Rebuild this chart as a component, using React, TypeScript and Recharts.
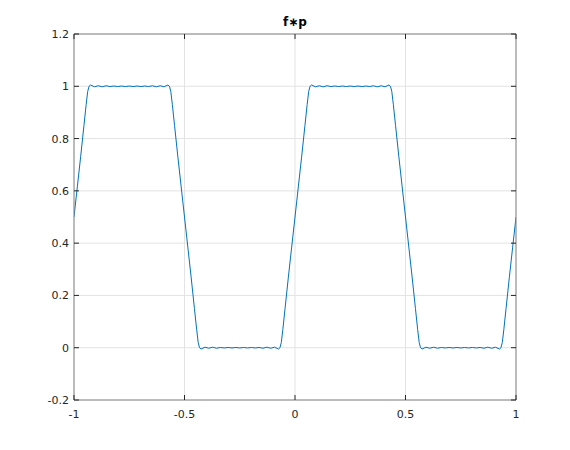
import React from 'react';
import { LineChart, Line, XAxis, YAxis, CartesianGrid } from 'recharts';

const xs = [
  -1, -0.985, -0.97, -0.955, -0.945, -0.938, -0.932, -0.925,
  -0.9075, -0.89, -0.8725, -0.855, -0.8375, -0.82, -0.8025, -0.785, -0.7675, -0.75, -0.7325, -0.715, -0.6975, -0.68, -0.6625, -0.645, -0.6275, -0.61, -0.5925,
  -0.575, -0.568, -0.562, -0.555, -0.545, -0.53, -0.515, -0.5, -0.485, -0.47, -0.455, -0.445, -0.438, -0.432, -0.425,
  -0.4075, -0.39, -0.3725, -0.355, -0.3375, -0.32, -0.3025, -0.285, -0.2675, -0.25, -0.2325, -0.215, -0.1975, -0.18, -0.1625, -0.145, -0.1275, -0.11, -0.0925,
  -0.075, -0.068, -0.062, -0.055, -0.045, -0.03, -0.015, 0, 0.015, 0.03, 0.045, 0.055, 0.062, 0.068, 0.075,
  0.0925, 0.11, 0.1275, 0.145, 0.1625, 0.18, 0.1975, 0.215, 0.2325, 0.25, 0.2675, 0.285, 0.3025, 0.32, 0.3375, 0.355, 0.3725, 0.39, 0.4075,
  0.425, 0.432, 0.438, 0.445, 0.455, 0.47, 0.485, 0.5, 0.515, 0.53, 0.545, 0.555, 0.562, 0.568, 0.575,
  0.5925, 0.61, 0.6275, 0.645, 0.6625, 0.68, 0.6975, 0.715, 0.7325, 0.75, 0.7675, 0.785, 0.8025, 0.82, 0.8375, 0.855, 0.8725, 0.89, 0.9075,
  0.925, 0.932, 0.938, 0.945, 0.955, 0.97, 0.985, 1,
];

const ys = [
  0.5, 0.615, 0.73, 0.85, 0.93, 0.98, 1.0, 1.005,
  0.998, 1.002, 0.998, 1.002, 0.999, 1.001, 0.999, 1.001, 0.999, 1.001, 0.999, 1.001, 0.999, 1.001, 0.999, 1.002, 0.998, 1.002, 0.998,
  1.005, 1.0, 0.98, 0.93, 0.85, 0.73, 0.615, 0.5, 0.385, 0.27, 0.15, 0.07, 0.02, 0.0, -0.005,
  0.002, -0.002, 0.002, -0.002, 0.001, -0.001, 0.001, -0.001, 0.001, -0.001, 0.001, -0.001, 0.001, -0.001, 0.001, -0.002, 0.002, -0.002, 0.002,
  -0.005, 0.0, 0.02, 0.07, 0.15, 0.27, 0.385, 0.5, 0.615, 0.73, 0.85, 0.93, 0.98, 1.0, 1.005,
  0.998, 1.002, 0.998, 1.002, 0.999, 1.001, 0.999, 1.001, 0.999, 1.001, 0.999, 1.001, 0.999, 1.001, 0.999, 1.002, 0.998, 1.002, 0.998,
  1.005, 1.0, 0.98, 0.93, 0.85, 0.73, 0.615, 0.5, 0.385, 0.27, 0.15, 0.07, 0.02, 0.0, -0.005,
  0.002, -0.002, 0.002, -0.002, 0.001, -0.001, 0.001, -0.001, 0.001, -0.001, 0.001, -0.001, 0.001, -0.001, 0.001, -0.002, 0.002, -0.002, 0.002,
  -0.005, 0.0, 0.02, 0.07, 0.15, 0.27, 0.385, 0.5,
];

const xTicks = [-1, -0.5, 0, 0.5, 1];
const yTicks = [-0.2, 0, 0.2, 0.4, 0.6, 0.8, 1, 1.2];
const title = 'f∗p';

const data = xs.map((x, i) => ({ x, y: ys[i] }));

const W = 554;
const H = 434;
const PL = 66;
const PT = 26;
const PR = 508;
const PB = 392;
const AXIS = '#868686';
const TXT = '#262626';
const FONT = 'DejaVu Sans';

const BottomTick = (props: any) => {
  const { x, payload } = props;
  return (
    <g>
      <line x1={x} x2={x} y1={PB} y2={PB - 5} stroke={TXT} strokeWidth={1} />
      <text x={x} y={PB + 18} textAnchor="middle" fill={TXT} fontSize={11} fontFamily={FONT}>
        {String(payload.value)}
      </text>
    </g>
  );
};

const TopTick = (props: any) => {
  const { x } = props;
  return <line x1={x} x2={x} y1={PT} y2={PT + 5} stroke={TXT} strokeWidth={1} />;
};

const LeftTick = (props: any) => {
  const { y, payload } = props;
  return (
    <g>
      <line x1={PL} x2={PL + 5} y1={y} y2={y} stroke={TXT} strokeWidth={1} />
      <text x={PL - 5} y={y + 4} textAnchor="end" fill={TXT} fontSize={11} fontFamily={FONT}>
        {String(payload.value)}
      </text>
    </g>
  );
};

const RightTick = (props: any) => {
  const { y } = props;
  return <line x1={PR} x2={PR - 5} y1={y} y2={y} stroke={TXT} strokeWidth={1} />;
};

export default function App() {
  return (
    <div style={{ position: 'relative', width: W, height: H }}>
      <LineChart
        width={W}
        height={H}
        data={data}
        margin={{ top: PT - 1, right: W - PR - 1, bottom: 0, left: 0 }}
      >
        <CartesianGrid stroke="#e3e3e3" strokeWidth={1} xAxisId="b" yAxisId="l" />
        <XAxis
          xAxisId="b"
          dataKey="x"
          type="number"
          domain={[-1, 1]}
          ticks={xTicks}
          allowDataOverflow
          height={H - PB}
          tickLine={false}
          tickSize={0}
          tickMargin={0}
          tick={<BottomTick />}
          axisLine={{ stroke: AXIS, strokeWidth: 1 }}
          interval={0}
        />
        <XAxis
          xAxisId="t"
          dataKey="x"
          type="number"
          orientation="top"
          domain={[-1, 1]}
          ticks={xTicks}
          allowDataOverflow
          height={1}
          tickLine={false}
          tickSize={0}
          tickMargin={0}
          tick={<TopTick />}
          axisLine={{ stroke: AXIS, strokeWidth: 1 }}
          interval={0}
        />
        <YAxis
          yAxisId="l"
          type="number"
          domain={[-0.2, 1.2]}
          ticks={yTicks}
          allowDataOverflow
          width={PL}
          tickLine={false}
          tickSize={0}
          tickMargin={0}
          tick={<LeftTick />}
          axisLine={{ stroke: AXIS, strokeWidth: 1 }}
          interval={0}
        />
        <YAxis
          yAxisId="r"
          orientation="right"
          type="number"
          domain={[-0.2, 1.2]}
          ticks={yTicks}
          allowDataOverflow
          width={1}
          tickLine={false}
          tickSize={0}
          tickMargin={0}
          tick={<RightTick />}
          axisLine={{ stroke: AXIS, strokeWidth: 1 }}
          interval={0}
        />
        <Line
          xAxisId="b"
          yAxisId="l"
          type="linear"
          dataKey="y"
          stroke="#0072BD"
          strokeWidth={1}
          dot={false}
          isAnimationActive={false}
        />
      </LineChart>
      <svg width={W} height={PT} style={{ position: 'absolute', left: 0, top: 0 }}>
        <text x={(PL + PR) / 2} y={18} textAnchor="middle" fontWeight="bold" fontSize={12} fill="#000" fontFamily={FONT}>
          {title}
        </text>
      </svg>
    </div>
  );
}
